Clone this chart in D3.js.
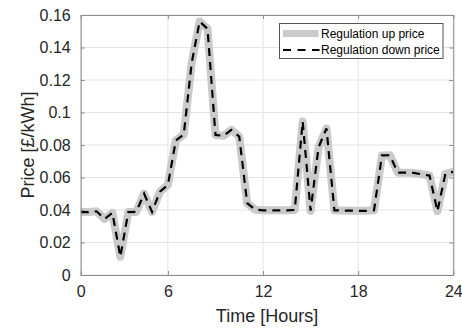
<!DOCTYPE html>
<html>
<head>
<meta charset="utf-8">
<script src="https://cdn.jsdelivr.net/npm/d3@7"></script>
<style>
  body { margin: 0; background: #fff; }
  svg { font-family: "Liberation Sans", Arial, sans-serif; }
</style>
</head>
<body>
<div id="chart"></div>
<script>
// half hourly periods, 0.5 .. 24
var hours = [0.5, 1, 1.5, 2, 2.5, 3, 3.5, 4, 4.5, 5, 5.5, 6,
  6.5, 7, 7.5, 8, 8.5, 9, 9.5, 10, 10.5, 11, 11.5, 12,
  12.5, 13, 13.5, 14, 14.5, 15, 15.5, 16, 16.5, 17, 17.5, 18,
  18.5, 19, 19.5, 20, 20.5, 21, 21.5, 22, 22.5, 23, 23.5, 24];

var upPrice = [0.0387, 0.0387, 0.0392, 0.0345, 0.0382, 0.0112, 0.0387, 0.0388, 0.0500, 0.0388, 0.0513, 0.0554,
  0.0828, 0.0865, 0.1305, 0.1560, 0.1515, 0.0862, 0.0856, 0.0893, 0.0852, 0.0442, 0.0402, 0.0398,
  0.0398, 0.0398, 0.0398, 0.0400, 0.0945, 0.0396, 0.0785, 0.0902, 0.0398, 0.0397, 0.0396, 0.0395,
  0.0395, 0.0398, 0.0736, 0.0737, 0.0630, 0.0630, 0.0628, 0.0620, 0.0612, 0.0393, 0.0622, 0.0635];

var downPrice = [0.0387, 0.0387, 0.0392, 0.0345, 0.0382, 0.0112, 0.0387, 0.0388, 0.0500, 0.0388, 0.0513, 0.0554,
  0.0828, 0.0865, 0.1305, 0.1560, 0.1515, 0.0862, 0.0856, 0.0893, 0.0852, 0.0442, 0.0402, 0.0398,
  0.0398, 0.0398, 0.0398, 0.0400, 0.0945, 0.0396, 0.0785, 0.0902, 0.0398, 0.0397, 0.0396, 0.0395,
  0.0395, 0.0398, 0.0736, 0.0737, 0.0630, 0.0630, 0.0628, 0.0620, 0.0612, 0.0393, 0.0622, 0.0635];

var xTicks = [0.5, 6, 12, 18, 24];
var xTickLabels = ['0', '6', '12', '18', '24'];
var yTicks = [0, 0.02, 0.04, 0.06, 0.08, 0.1, 0.12, 0.14, 0.16];
var yTickLabels = ['0', '0.02', '0.04', '0.06', '0.08', '0.1', '0.12', '0.14', '0.16'];
var seriesNames = ['Regulation up price', 'Regulation down price'];

var W = 462, H = 328;
var margin = {top: 15, right: 8.7, bottom: 53, left: 80.7};
var w = W - margin.left - margin.right;
var h = H - margin.top - margin.bottom;

var svg = d3.select('#chart').append('svg')
  .attr('width', W).attr('height', H);

svg.append('rect').attr('width', W).attr('height', H).attr('fill', '#fff');

var g = svg.append('g').attr('transform', 'translate(' + margin.left + ',' + margin.top + ')');

var x = d3.scaleLinear().domain([0.5, 24]).range([0, w]);
var y = d3.scaleLinear().domain([0, 0.16]).range([h, 0]);

// grid
g.selectAll('.gx').data(xTicks).enter().append('line')
  .attr('x1', d => x(d)).attr('x2', d => x(d))
  .attr('y1', 0).attr('y2', h)
  .attr('stroke', '#e3e3e3').attr('stroke-width', 1);
g.selectAll('.gy').data(yTicks).enter().append('line')
  .attr('x1', 0).attr('x2', w)
  .attr('y1', d => y(d)).attr('y2', d => y(d))
  .attr('stroke', '#e3e3e3').attr('stroke-width', 1);

g.append('defs').append('clipPath').attr('id', 'clip')
  .append('rect').attr('width', w).attr('height', h);

var line = d3.line()
  .x((d, i) => x(hours[i]))
  .y(d => y(d));

var plot = g.append('g').attr('clip-path', 'url(#clip)');

plot.append('path').datum(upPrice)
  .attr('d', line)
  .attr('fill', 'none')
  .attr('stroke', '#cacaca')
  .attr('stroke-width', 8)
  .attr('stroke-linejoin', 'round')
  .attr('stroke-linecap', 'round');

plot.append('path').datum(downPrice)
  .attr('d', line)
  .attr('fill', 'none')
  .attr('stroke', '#000')
  .attr('stroke-width', 2.2)
  .attr('stroke-dasharray', '8,6');

// axes, ticks inward like matlab
var axisColor = '#8c8c8c';
var tickLen = 4;

var xAxis = d3.axisBottom(x).tickValues(xTicks)
  .tickFormat((d, i) => xTickLabels[i]).tickSizeInner(-tickLen).tickSizeOuter(0).tickPadding(11);
var yAxis = d3.axisLeft(y).tickValues(yTicks)
  .tickFormat((d, i) => yTickLabels[i]).tickSizeInner(-tickLen).tickSizeOuter(0).tickPadding(10);

var gx = g.append('g').attr('transform', 'translate(0,' + h + ')').call(xAxis);
var gy = g.append('g').call(yAxis);
var gxTop = g.append('g').call(d3.axisTop(x).tickValues(xTicks).tickFormat('').tickSizeInner(-tickLen).tickSizeOuter(0));
var gyRight = g.append('g').attr('transform', 'translate(' + w + ',0)')
  .call(d3.axisRight(y).tickValues(yTicks).tickFormat('').tickSizeInner(-tickLen).tickSizeOuter(0));

[gx, gy, gxTop, gyRight].forEach(function(a) {
  a.select('.domain').attr('stroke', axisColor);
  a.selectAll('.tick line').attr('stroke', axisColor);
  a.selectAll('.tick text').attr('fill', '#262626').attr('font-size', 16)
    .attr('font-family', '"Liberation Sans", Arial, sans-serif');
});

// axis labels
svg.append('text')
  .attr('x', margin.left + w / 2).attr('y', 322)
  .attr('text-anchor', 'middle')
  .attr('font-size', 18).attr('fill', '#262626')
  .text('Time [Hours]');

svg.append('text')
  .attr('transform', 'translate(34,' + (margin.top + h / 2) + ') rotate(-90)')
  .attr('text-anchor', 'middle')
  .attr('font-size', 18).attr('fill', '#262626')
  .text('Price [£/kWh]');

// legend
var lg = svg.append('g').attr('transform', 'translate(279.5,23.5)');
lg.append('rect').attr('width', 163.5).attr('height', 35)
  .attr('fill', '#fff').attr('stroke', '#555').attr('stroke-width', 1);

lg.append('line').attr('x1', 3.5).attr('x2', 39).attr('y1', 10).attr('y2', 10)
  .attr('stroke', '#cacaca').attr('stroke-width', 7);
lg.append('line').attr('x1', 3.5).attr('x2', 40).attr('y1', 26.5).attr('y2', 26.5)
  .attr('stroke', '#000').attr('stroke-width', 2.2).attr('stroke-dasharray', '8,6.5');

lg.selectAll('.lt').data(seriesNames).enter().append('text')
  .attr('x', 41.5).attr('y', (d, i) => 14.5 + i * 16)
  .attr('font-size', 12).attr('fill', '#000')
  .text(d => d);
</script>
</body>
</html>
